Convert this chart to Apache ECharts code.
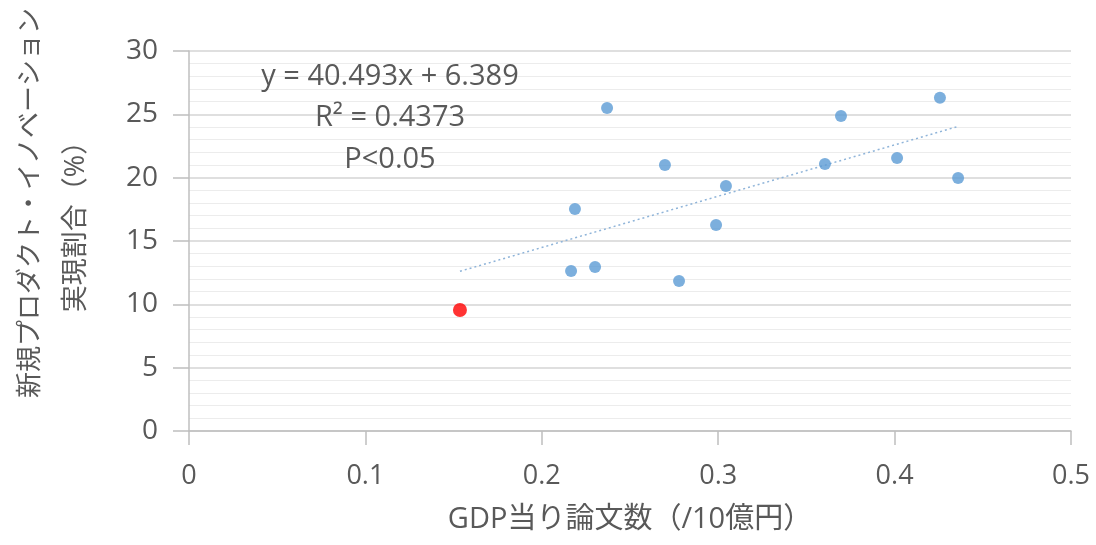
<!DOCTYPE html>
<html>
<head>
<meta charset="utf-8">
<script src="https://cdn.jsdelivr.net/npm/echarts@6/dist/echarts.min.js"></script>
<style>
html,body{margin:0;padding:0;background:#fff;}
#chart{width:1096px;height:545px;}
</style>
</head>
<body>
<div id="chart"></div>
<script>
// Data
const blueX = [0.237, 0.4257, 0.3696, 0.2698, 0.3044, 0.3605, 0.4014, 0.436, 0.2188, 0.2988, 0.2166, 0.2302, 0.2778];
const blueY = [25.5, 26.3, 24.87, 21.0, 19.34, 21.08, 21.55, 19.97, 17.53, 16.26, 12.63, 12.95, 11.84];
const redX = [0.1536];
const redY = [9.55];
// Trend line as stated on the chart: y = 40.493x + 6.389
const trendCoef = [40.493, 6.389];
const trendRange = [0.1536, 0.436];
const xTicks = ['0', '0.1', '0.2', '0.3', '0.4', '0.5'];
const yTicks = ['0', '5', '10', '15', '20', '25', '30'];
const annotation = ['y = 40.493x + 6.389', 'R² = 0.4373', 'P<0.05'];
const xName = 'GDP当り論文数（/10億円）';
const yName = ['新規プロダクト・イノベーション', '実現割合（%）'];

const FONT = '"Open Sans","Noto Sans CJK JP",sans-serif';
const TXT = '#595959';

const blue = blueX.map((x, i) => [x, blueY[i]]);
const red = redX.map((x, i) => [x, redY[i]]);
const trend = trendRange.map(x => [x, trendCoef[0] * x + trendCoef[1]]);

const chart = echarts.init(document.getElementById('chart'));
const gridL = 189, gridT = 51, gridR = 1096 - 1071, gridB = 545 - 431;

function annot(text, y) {
  return { type: 'text', z: 10, style: { x: 390, y: y, text: text, textAlign: 'center', textVerticalAlign: 'middle', fill: TXT, fontSize: 29, fontFamily: FONT } };
}

chart.setOption({
  animation: false,
  backgroundColor: '#fff',
  grid: { left: gridL, top: gridT, right: gridR, bottom: gridB, containLabel: false },
  xAxis: {
    type: 'value', min: 0, max: 0.5, interval: 0.1,
    axisLine: { show: true, onZero: false, lineStyle: { color: '#bfbfbf', width: 1.5 } },
    axisTick: { show: true, length: 14, lineStyle: { color: '#bfbfbf', width: 1.5 } },
    axisLabel: { color: TXT, fontSize: 27, fontFamily: FONT, margin: 32,
      formatter: (v) => xTicks[Math.round(v * 10)] },
    splitLine: { show: false },
    name: xName, nameLocation: 'middle', nameGap: 74,
    nameTextStyle: { color: TXT, fontSize: 29, fontFamily: FONT }
  },
  yAxis: {
    type: 'value', min: 0, max: 30, interval: 5,
    axisLine: { show: true, onZero: false, lineStyle: { color: '#bfbfbf', width: 1.5 } },
    axisTick: { show: true, length: 16, lineStyle: { color: '#bfbfbf', width: 1.5 } },
    axisLabel: { color: TXT, fontSize: 28, fontFamily: FONT, margin: 31,
      formatter: (v) => yTicks[Math.round(v / 5)] },
    splitLine: { show: true, lineStyle: { color: '#d4d4d4', width: 1.5 } },
    minorTick: { show: false, splitNumber: 5 },
    minorSplitLine: { show: true, lineStyle: { color: '#ececec', width: 1 } }
  },
  graphic: [
    annot(annotation[0], 77),
    annot(annotation[1], 118),
    annot(annotation[2], 160),
    { type: 'text', z: 10, x: 31, y: 203, rotation: Math.PI / 2, style: { x: 0, y: 0, text: yName[0], textAlign: 'center', textVerticalAlign: 'middle', fill: TXT, fontSize: 26, fontFamily: FONT } },
    { type: 'text', z: 10, x: 76, y: 220, rotation: Math.PI / 2, style: { x: 0, y: 0, text: yName[1], textAlign: 'center', textVerticalAlign: 'middle', fill: TXT, fontSize: 27, fontFamily: FONT } }
  ],
  series: [
    { type: 'line', data: trend, symbol: 'none', silent: true,
      lineStyle: { color: '#8fb4d9', width: 1.5, type: [2, 3] }, z: 2 },
    { type: 'scatter', data: blue, symbolSize: 12, itemStyle: { color: '#5b9bd5' }, z: 3 },
    { type: 'scatter', data: red, symbolSize: 14, itemStyle: { color: '#ff0000' }, z: 3 }
  ]
});
</script>
</body>
</html>
